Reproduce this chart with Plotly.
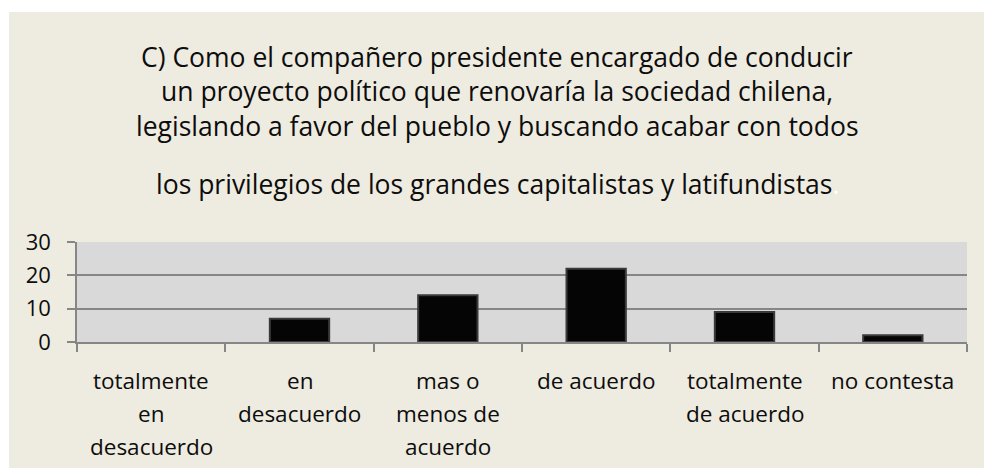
import plotly.graph_objects as go

# Datos del gráfico
categorias = ["totalmente en desacuerdo", "en desacuerdo", "mas o menos de acuerdo",
              "de acuerdo", "totalmente de acuerdo", "no contesta"]
etiquetas = [["totalmente", "en", "desacuerdo"],
             ["en", "desacuerdo"],
             ["mas o", "menos de", "acuerdo"],
             ["de acuerdo"],
             ["totalmente", "de acuerdo"],
             ["no contesta"]]
valores = [0, 7, 14, 22, 9, 2]
titulo = ["C) Como el compañero presidente encargado de conducir",
          "un proyecto político que renovaría la sociedad chilena,",
          "legislando a favor del pueblo y buscando acabar con todos",
          "los privilegios de los grandes capitalistas y latifundistas"]

fuente = "Open Sans"
color_texto = "#0d0d0d"

fig = go.Figure()
fig.add_trace(go.Bar(x=categorias, y=valores,
                     marker=dict(color="#050505",
                                 line=dict(color="#3a3a3a",
                                           width=[0 if v == 0 else 2 for v in valores])),
                     width=0.4))

# Fondo beige con franjas blancas arriba y a la izquierda
fig.add_shape(type="rect", xref="paper", yref="paper", x0=-1, x1=2, y0=3.3, y1=4,
              fillcolor="white", line_width=0, layer="above")
fig.add_shape(type="rect", xref="paper", yref="paper", x0=-1, x1=-0.0764, y0=-2, y1=4,
              fillcolor="white", line_width=0, layer="above")

# Título en líneas separadas
pos_titulo = [57, 91, 126, 184]
for linea, py in zip(titulo, pos_titulo):
    texto = linea
    if linea.endswith("latifundistas"):
        texto = linea + "<span style='color:white'>.</span>"
    fig.add_annotation(text=texto, xref="paper", yref="paper",
                       x=(497 - 77) / 890, y=(342 - py) / 100,
                       showarrow=False, xanchor="center", yanchor="middle",
                       font=dict(family=fuente, size=26.5, color=color_texto))

# Etiquetas de categorías
for cat, lineas in zip(categorias, etiquetas):
    for i, linea in enumerate(lineas):
        fig.add_annotation(text=linea, x=cat, xref="x", yref="paper",
                           y=(342 - (380 + 33 * i)) / 100,
                           showarrow=False, xanchor="center", yanchor="middle",
                           font=dict(family=fuente, size=22.5, color=color_texto))

fig.update_layout(
    width=984, height=468,
    margin=dict(l=77, r=17, t=242, b=126),
    paper_bgcolor="#eeebe0",
    plot_bgcolor="#d9d9d9",
    showlegend=False,
    font=dict(family=fuente, size=22, color=color_texto),
    xaxis=dict(showticklabels=False, ticks="outside", tickson="boundaries",
               ticklen=8, tickcolor="#868686", tickwidth=1.5,
               showline=True, linecolor="#868686", linewidth=1.5,
               showgrid=False),
    yaxis=dict(range=[0, 30], tickvals=[0, 10, 20, 30], ticks="outside",
               ticklen=8, tickcolor="#868686", tickwidth=1.5,
               showline=True, linecolor="#868686", linewidth=1.5,
               gridcolor="#868686", gridwidth=1.5, zeroline=False,
               ticklabelstandoff=12),
)

fig.write_html("out.html", config={"displayModeBar": False},
               post_script="document.body.style.margin='0';")
